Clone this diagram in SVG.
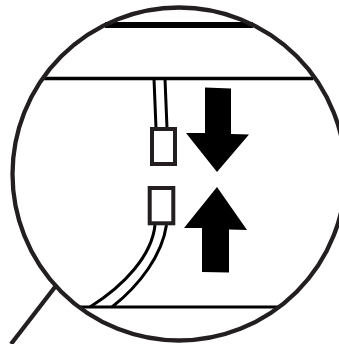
<svg xmlns="http://www.w3.org/2000/svg" width="339" height="344" viewBox="0 0 339 344">
<style>
.o{fill:none;stroke:#231f20;stroke-width:4.300}
.w{fill:none;stroke:#000;stroke-width:3}
.a{fill:#000}
.b{fill:#fff;stroke:#231f20;stroke-width:4}
</style>
<rect width="339" height="344" fill="#fff"/>
<g id="lines">
<path d="M105 25H253" stroke="#000" stroke-width="6" fill="none"/>
<path d="M43 78.500H313" stroke="#000" stroke-width="3.600" fill="none"/>
<path d="M78 307H279" stroke="#000" stroke-width="3.200" fill="none"/>
</g>
<g id="connectors">
<path class="w" d="M154 79L156 128"/>
<path class="w" d="M165 79L167 128"/>
<path class="w" d="M155 225C152 255 125 285 90 307"/>
<path class="w" d="M166.500 225C162 255 140 285 112 307"/>
</g>
<g id="plug-top"><rect class="b" x="152" y="129" width="23" height="35"/></g>
<g id="plug-bottom"><rect class="b" x="149.700" y="188" width="23.600" height="35.300"/></g>
<g id="arrow-down"><path class="a" d="M205 87.500L231 88.500V134L249 134.500L217 172L186 133H205Z"/></g>
<g id="arrow-up"><path class="a" d="M217 187L247 230L229 229.500V272.500L202 272V228H184Z"/></g>
<g id="lens">
<circle class="o" cx="179" cy="174" r="166.500"/>
<path class="o" d="M55 287L11 344"/>
</g>
</svg>
